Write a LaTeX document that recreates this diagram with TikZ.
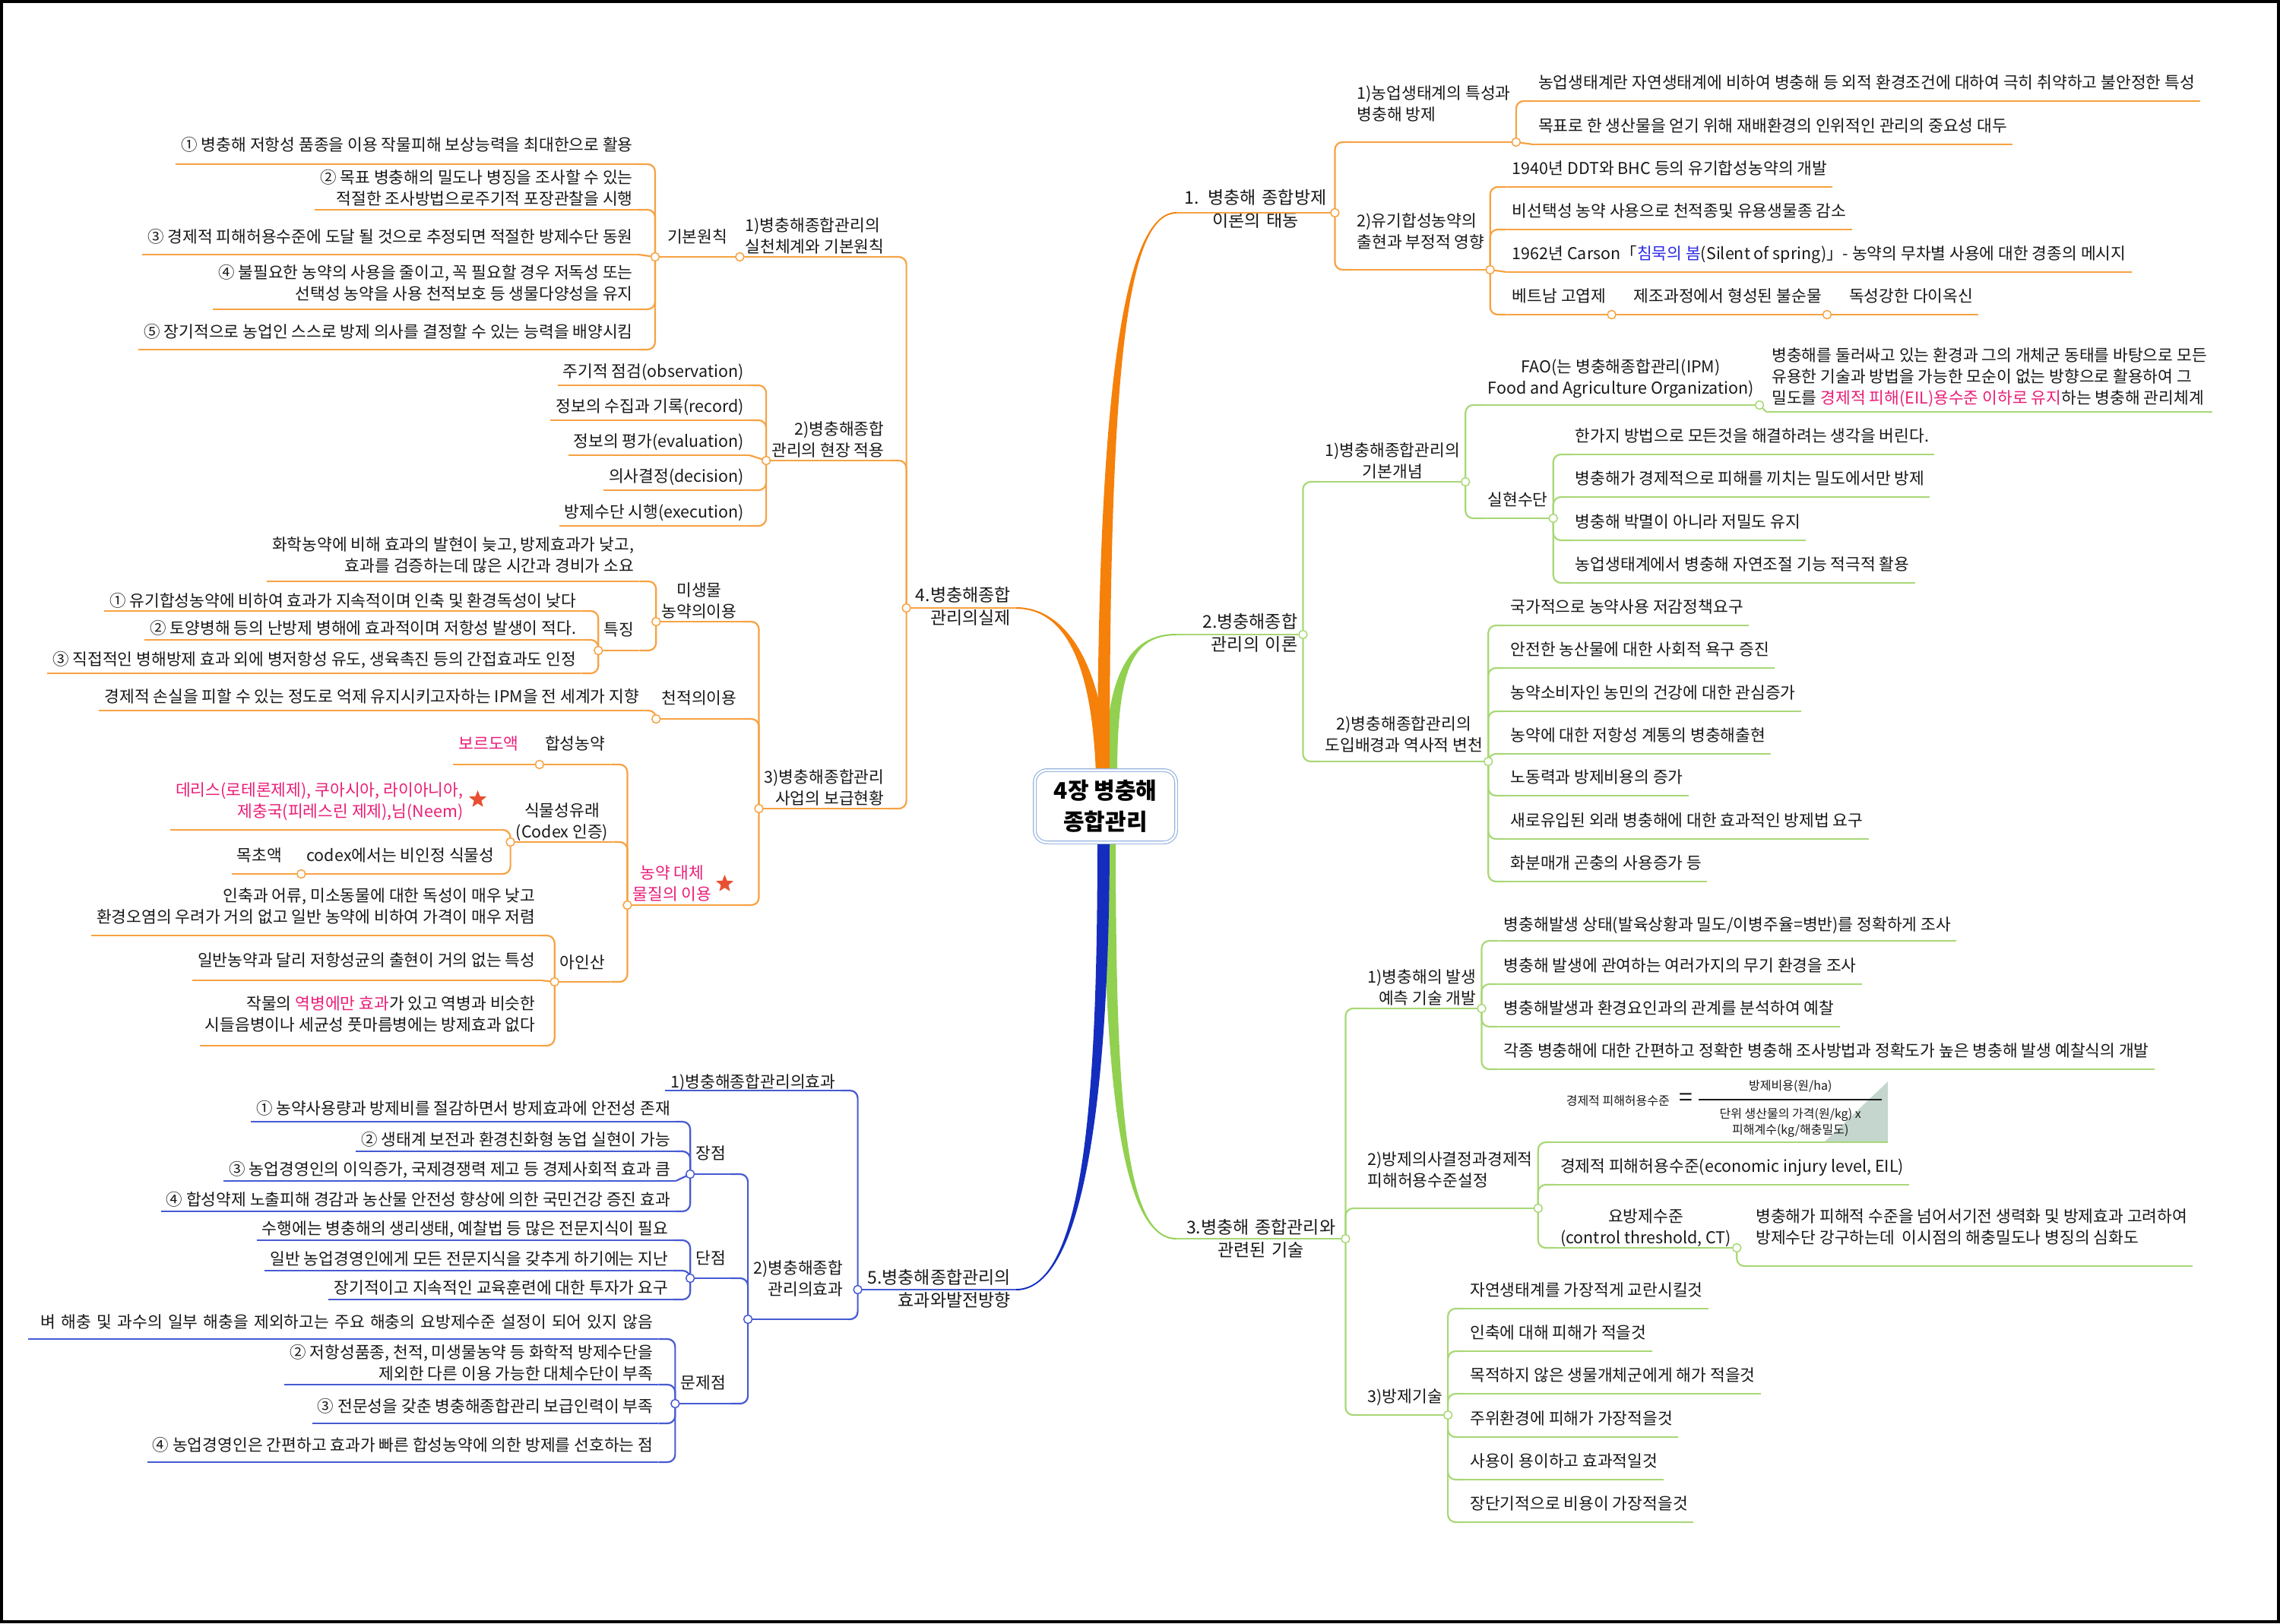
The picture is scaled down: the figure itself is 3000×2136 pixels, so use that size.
\documentclass[tikz,border=0pt]{standalone}
\usepackage{fontspec}
\setmainfont{Noto Sans CJK KR}
\usetikzlibrary{shapes.geometric}
\definecolor{OrangeMain}{RGB}{245,128,10}
\definecolor{OrangeLine}{RGB}{247,162,66}
\definecolor{GreenMain}{RGB}{146,208,80}
\definecolor{GreenLine}{RGB}{168,216,118}
\definecolor{BlueMain}{RGB}{20,45,190}
\definecolor{BlueLine}{RGB}{70,90,210}
\definecolor{PinkText}{RGB}{233,30,120}
\definecolor{BlueText}{RGB}{45,45,230}
\definecolor{StarRed}{RGB}{232,80,50}
\definecolor{BoxBlue}{RGB}{150,180,225}
\definecolor{TextGray}{RGB}{25,25,25}
\definecolor{FormulaShade}{RGB}{196,214,206}
\newcommand{\fleaf}{\fontsize{21.5}{28}\selectfont}
\newcommand{\fmain}{\fontsize{23}{30}\selectfont}
\newcommand{\fsmall}{\fontsize{16}{21}\selectfont}
\newcommand{\feq}{\fontsize{32}{32}\selectfont}
\newcommand{\fhub}{\fontsize{30}{41}\selectfont\bfseries}

\begin{document}
\begin{tikzpicture}[x=1pt, y=-1pt,
        hub/.style={
            rectangle,
            rounded corners=16pt,
            draw=BoxBlue,
            line width=1.2pt,
            double=white,
            double distance=2.5pt,
            fill=white,
            minimum width=186pt,
            minimum height=95pt,
            align=center,
            font=\fhub
        },
        rbase/.style={anchor=south west, inner xsep=7pt, inner ysep=11pt, text depth=5pt, font=\fleaf, align=left, text=TextGray},
        lbase/.style={anchor=south east, inner xsep=7pt, inner ysep=11pt, text depth=5pt, font=\fleaf, align=right, text=TextGray},
        rt/.style={rbase, xshift=22pt},
        lt/.style={lbase, xshift=-22pt},
        topic/.style={font=\fmain},
        ln/.style={draw=#1, line width=2.2pt, rounded corners=10pt},
        jn/.style={circle, draw=#1, fill=white, line width=1.5pt, minimum size=11pt, inner sep=0pt},
        starn/.style={star, star points=5, star point ratio=2.3, fill=StarRed, minimum size=24pt, inner sep=0pt}
    ]
        \useasboundingbox (0,0) rectangle (3000,2136);
        \draw[line width=4pt] (2,2) rectangle (2998,2134);

        % Thick branches out of the centre
        \fill[GreenMain] (1454,1020) .. controls (1454,880) and (1490,834) .. (1548,834) -- (1548,836) .. controls (1490,836) and (1470,880) .. (1470,1020) -- cycle;
        \fill[GreenMain] (1452,1100) .. controls (1452,1450) and (1480,1631) .. (1548,1631) -- (1548,1629) .. controls (1480,1629) and (1468,1450) .. (1468,1100) -- cycle;
        \fill[OrangeMain] (1444,1020) .. controls (1444,520) and (1478,279) .. (1548,279) -- (1548,281) .. controls (1478,281) and (1460,520) .. (1460,1020) -- cycle;
        \fill[OrangeMain] (1442,1020) .. controls (1437,870) and (1400,801) .. (1337,801) -- (1337,799) .. controls (1400,799) and (1453,870) .. (1458,1020) -- cycle;
        \fill[BlueMain] (1444,1100) .. controls (1444,1420) and (1430,1696) .. (1337,1696) -- (1337,1698) .. controls (1430,1698) and (1460,1420) .. (1460,1100) -- cycle;

        % Central topic
        \node[hub] (ctr) at (1454.5,1061) {4장 병충해\\종합관리};

        % 1. right, orange
        \node[rbase, topic, text width=194pt, align=center, inner ysep=6pt] (m1) at (1548,280) {1. 병충해 종합방제\\이론의 태동};
        \node[rt, inner ysep=23pt] (b11) at (m1.south east |- 0,187) {1)농업생태계의 특성과\\병충해 방제};
        \node[rt] (b111) at (b11.south east |- 0,133) {농업생태계란 자연생태계에 비하여 병충해 등 외적 환경조건에 대하여 극히 취약하고 불안정한 특성};
        \node[rt] (b112) at (b11.south east |- 0,190) {목표로 한 생산물을 얻기 위해 재배환경의 인위적인 관리의 중요성 대두};
        \node[rt, inner ysep=23pt] (b12) at (m1.south east |- 0,355) {2)유기합성농약의\\출현과 부정적 영향};
        \node[rt] (b121) at (b12.south east |- 0,246) {1940년 DDT와 BHC 등의 유기합성농약의 개발};
        \node[rt] (b122) at (b12.south east |- 0,302) {비선택성 농약 사용으로 천적종및 유용생물종 감소};
        \node[rt] (b123) at (b12.south east |- 0,358) {1962년 Carson「\textcolor{BlueText}{침묵의 봄}(Silent of spring)」- 농약의 무차별 사용에 대한 경종의 메시지};
        \node[rt] (b124) at (b12.south east |- 0,414) {베트남 고엽제};
        \node[rt] (b1241) at (b124.south east) {제조과정에서 형성된 불순물};
        \node[rt] (b12411) at (b1241.south east) {독성강한 다이옥신};

        % 2. right, green
        \node[rbase, topic, text width=152pt, align=right, inner ysep=3pt] (m2) at (1548,835) {2.병충해종합\\관리의 이론};
        \node[rt, align=center, inner ysep=0pt] (b21) at (m2.south east |- 0,634) {1)병충해종합관리의\\기본개념};
        \node[rt, align=center, inner ysep=9pt] (b211) at (b21.south east |- 0,533) {FAO(는 병충해종합관리(IPM)\\Food and Agriculture Organization)};
        \node[rbase, xshift=9pt, inner ysep=5pt] (b2111) at (b211.south east |- 0,542) {병충해를 둘러싸고 있는 환경과 그의 개체군 동태를 바탕으로 모든\\유용한 기술과 방법을 가능한 모순이 없는 방향으로 활용하여 그\\밀도를 \textcolor{PinkText}{경제적 피해(EIL)용수준 이하로 유지}하는 병충해 관리체계};
        \node[rt] (b212) at (b21.south east |- 0,682) {실현수단};
        \node[rt] (b2121) at (b212.south east |- 0,598) {한가지 방법으로 모든것을 해결하려는 생각을 버린다.};
        \node[rt] (b2122) at (b212.south east |- 0,654) {병충해가 경제적으로 피해를 끼치는 밀도에서만 방제};
        \node[rt] (b2123) at (b212.south east |- 0,711) {병충해 박멸이 아니라 저밀도 유지};
        \node[rt] (b2124) at (b212.south east |- 0,767) {농업생태계에서 병충해 자연조절 기능 적극적 활용};
        \node[rt, align=center, inner ysep=8pt] (b22) at (m2.south east |- 0,1002) {2)병충해종합관리의\\도입배경과 역사적 변천};
        \node[rt] (b221) at (b22.south east |- 0,823) {국가적으로 농약사용 저감정책요구};
        \node[rt] (b222) at (b22.south east |- 0,879) {안전한 농산물에 대한 사회적 욕구 증진};
        \node[rt] (b223) at (b22.south east |- 0,936) {농약소비자인 농민의 건강에 대한 관심증가};
        \node[rt] (b224) at (b22.south east |- 0,992) {농약에 대한 저항성 계통의 병충해출현};
        \node[rt] (b225) at (b22.south east |- 0,1047) {노동력과 방제비용의 증가};
        \node[rt] (b226) at (b22.south east |- 0,1104) {새로유입된 외래 병충해에 대한 효과적인 방제법 요구};
        \node[rt] (b227) at (b22.south east |- 0,1160) {화분매개 곤충의 사용증가 등};

        % 3. right, green
        \node[rbase, topic, text width=208pt, align=center, inner ysep=1pt] (m3) at (1548,1630) {3.병충해 종합관리와\\관련된 기술};
        \node[rt, align=right, inner ysep=0pt] (b31) at (m3.south east |- 0,1327) {1)병충해의 발생\\예측 기술 개발};
        \node[rt, inner ysep=8pt] (b311) at (b31.south east |- 0,1238) {병충해발생 상태(발육상황과 밀도/이병주율=병반)를 정확하게 조사};
        \node[rt] (b312) at (b31.south east |- 0,1295) {병충해 발생에 관여하는 여러가지의 무기 환경을 조사};
        \node[rt] (b313) at (b31.south east |- 0,1351) {병충해발생과 환경요인과의 관계를 분석하여 예찰};
        \node[rt] (b314) at (b31.south east |- 0,1407) {각종 병충해에 대한 간편하고 정확한 병충해 조사방법과 정확도가 높은 병충해 발생 예찰식의 개발};
        \node[rt, inner ysep=23pt] (b32) at (m3.south east |- 0,1590) {2)방제의사결정과경제적\\피해허용수준설정};
        \node[rbase, xshift=17pt, inner sep=0pt, text depth=0pt, minimum width=443pt, minimum height=2pt] (b321) at (b32.south east |- 0,1503) {};
        \node[rt] (b322) at (b32.south east |- 0,1559) {경제적 피해허용수준(economic injury level, EIL)};
        \node[rt, align=center, inner ysep=0pt] (b323) at (b32.south east |- 0,1642) {요방제수준\\(control threshold, CT)};
        \node[rbase, xshift=18pt, inner ysep=24pt] (b3231) at (b323.south east |- 0,1666) {병충해가 피해적 수준을 넘어서기전 생력화 및 방제효과 고려하여\\방제수단 강구하는데 \ 이시점의 해충밀도나 병징의 심화도};
        \node[rt] (b33) at (m3.south east |- 0,1862) {3)방제기술};
        \node[rt] (b331) at (b33.south east |- 0,1722) {자연생태계를 가장적게 교란시킬것};
        \node[rt] (b332) at (b33.south east |- 0,1778) {인축에 대해 피해가 적을것};
        \node[rt] (b333) at (b33.south east |- 0,1834) {목적하지 않은 생물개체군에게 해가 적을것};
        \node[rt] (b334) at (b33.south east |- 0,1891) {주위환경에 피해가 가장적을것};
        \node[rt] (b335) at (b33.south east |- 0,1947) {사용이 용이하고 효과적일것};
        \node[rt] (b336) at (b33.south east |- 0,2003) {장단기적으로 비용이 가장적을것};

        % Economic injury level formula
        \fill[FormulaShade] ([yshift=80pt]b321.south east) -- ([yshift=1pt]b321.south east) -- ([xshift=-83pt,yshift=1pt]b321.south east) -- cycle;
        \node[font=\fsmall, text=TextGray, inner sep=0pt] (eilL) at ([xshift=88pt,yshift=55pt]b321.south west) {경제적 피해허용수준};
        \node[font=\feq, text=TextGray, inner sep=0pt] (eilEq) at ([xshift=178pt,yshift=56pt]b321.south west) {=};
        \node[font=\fsmall, text=TextGray, inner sep=0pt] (eilNum) at ([xshift=315pt,yshift=74pt]b321.south west) {방제비용(원/ha)};
        \node[font=\fsmall, text=TextGray, align=center, inner sep=0pt] (eilDen) at ([xshift=315pt,yshift=26pt]b321.south west) {단위 생산물의 가격(원/kg) x\\피해계수(kg/해충밀도)};
        \draw[line width=2.5pt, TextGray] ([xshift=194pt,yshift=56pt]b321.south west) -- ([xshift=435pt,yshift=56pt]b321.south west);

        % 4. left, orange
        \node[lbase, topic, text width=130pt, align=right, inner ysep=3pt] (m4) at (1337,800) {4.병충해종합\\관리의실제};
        \node[lt, align=left, inner ysep=0pt] (b41) at (m4.south west |- 0,338) {1)병충해종합관리의\\실천체계와 기본원칙};
        \node[lbase, minimum width=111pt, inner ysep=13pt] (b411) at (b41.south west) {기본원칙};
        \node[lt, inner ysep=12pt] (b4111) at (b411.south west |- 0,216) {① 병충해 저항성 품종을 이용 작물피해 보상능력을 최대한으로 활용};
        \node[lt, inner ysep=1pt] (b4112) at (b411.south west |- 0,276) {② 목표 병충해의 밀도나 병징을 조사할 수 있는\\적절한 조사방법으로주기적 포장관찰을 시행};
        \node[lt, inner ysep=10pt] (b4113) at (b411.south west |- 0,335) {③ 경제적 피해허용수준에 도달 될 것으로 추정되면 적절한 방제수단 동원};
        \node[lt, inner ysep=7pt] (b4114) at (b411.south west |- 0,407) {④ 불필요한 농약의 사용을 줄이고, 꼭 필요할 경우 저독성 또는\\선택성 농약을 사용 천적보호 등 생물다양성을 유지};
        \node[lt, inner ysep=10pt] (b4115) at (b411.south west |- 0,460) {⑤ 장기적으로 농업인 스스로 방제 의사를 결정할 수 있는 능력을 배양시킴};
        \node[lt, inner ysep=0pt] (b42) at (m4.south west |- 0,606) {2)병충해종합\\관리의 현장 적용};
        \node[lt, inner ysep=5pt] (b421) at (b42.south west |- 0,507) {주기적 점검(observation)};
        \node[lt, inner ysep=5pt] (b422) at (b42.south west |- 0,553) {정보의 수집과 기록(record)};
        \node[lt, inner ysep=5pt] (b423) at (b42.south west |- 0,599) {정보의 평가(evaluation)};
        \node[lt, inner ysep=5pt] (b424) at (b42.south west |- 0,645) {의사결정(decision)};
        \node[lt, inner ysep=5pt] (b425) at (b42.south west |- 0,692) {방제수단 시행(execution)};
        \node[lt, inner ysep=0pt] (b43) at (m4.south west |- 0,1064) {3)병충해종합관리\\사업의 보급현황};
        \node[lt, align=center, inner ysep=0pt] (b431) at (b43.south west |- 0,818) {미생물\\농약의이용};
        \node[lt, inner ysep=7pt] (b4311) at (b431.south west |- 0,765) {화학농약에 비해 효과의 발현이 늦고, 방제효과가 낮고,\\효과를 검증하는데 많은 시간과 경비가 소요};
        \node[lt, inner ysep=14pt] (b4312) at (b431.south west |- 0,856) {특징};
        \node[lt, inner ysep=0pt] (b43121) at (b4312.south west |- 0,804) {① 유기합성농약에 비하여 효과가 지속적이며 인축 및 환경독성이 낮다};
        \node[lt, inner ysep=2pt] (b43122) at (b4312.south west |- 0,842) {② 토양병해 등의 난방제 병해에 효과적이며 저항성 발생이 적다.};
        \node[lt, inner ysep=5pt] (b43123) at (b4312.south west |- 0,886) {③ 직접적인 병해방제 효과 외에 병저항성 유도, 생육촉진 등의 간접효과도 인정};
        \node[lt, inner ysep=14pt] (b432) at (b43.south west |- 0,946) {천적의이용};
        \node[lbase, xshift=-15pt, inner ysep=5pt] (b4321) at (b432.south west |- 0,935) {경제적 손실을 피할 수 있는 정도로 억제 유지시키고자하는 IPM을 전 세계가 지향};
        \node[lt, inner ysep=1pt, text=PinkText] (b433) at (b43.south west |- 0,1191) {\begin{tabular}[b]{@{}c@{}}농약 대체\\물질의 이용\end{tabular}\hspace*{33pt}};
        \node[lt, inner ysep=14pt] (b4331) at (b433.south west |- 0,1006) {합성농약};
        \node[lbase, xshift=-20pt, inner ysep=14pt, text=PinkText] (b43311) at (b4331.south west) {보르도액};
        \node[lbase, xshift=-18pt, align=center, inner ysep=0pt] (b4332) at (b433.south west |- 0,1108) {식물성유래\\(Codex 인증)};
        \node[lbase, xshift=-10pt, inner ysep=11pt, text=PinkText] (b43321) at (b4332.south west |- 0,1092) {\begin{tabular}[b]{@{}r@{}}데리스(로테론제제), 쿠아시아, 라이아니아,\\제충국(피레스린 제제),님(Neem)\end{tabular}\hspace*{45pt}};
        \node[lbase, xshift=-14pt] (b43322) at (b4332.south west |- 0,1150) {codex에서는 비인정 식물성};
        \node[lbase, xshift=-18pt] (b433221) at (b43322.south west) {목초액};
        \node[lt, inner ysep=12pt] (b4333) at (b433.south west |- 0,1292) {아인산};
        \node[lbase, xshift=-18pt] (b43331) at (b4333.south west |- 0,1231) {인축과 어류, 미소동물에 대한 독성이 매우 낮고\\환경오염의 우려가 거의 없고 일반 농약에 비하여 가격이 매우 저렴};
        \node[lbase, xshift=-18pt, inner ysep=13pt] (b43332) at (b4333.south west |- 0,1290) {일반농약과 달리 저항성균의 출현이 거의 없는 특성};
        \node[lbase, xshift=-18pt, inner ysep=14pt] (b43333) at (b4333.south west |- 0,1376) {작물의 \textcolor{PinkText}{역병에만 효과}가 있고 역병과 비슷한\\시들음병이나 세균성 풋마름병에는 방제효과 없다};

        % 5. left, blue
        \node[lbase, topic, text width=194pt, align=right, inner ysep=2pt] (m5) at (1337,1697) {5.병충해종합관리의\\효과와발전방향};
        \node[lt, inner ysep=0pt, text depth=3pt] (b51) at (m5.south west |- 0,1435) {1)병충해종합관리의효과};
        \node[lbase, xshift=-12pt, inner ysep=26pt] (b52) at (m5.south west |- 0,1736) {2)병충해종합\\관리의효과};
        \node[lt, inner ysep=14pt] (b521) at (b52.south west |- 0,1545) {장점};
        \node[lbase, xshift=-19pt, inner ysep=4pt] (b5211) at (b521.south west |- 0,1476) {① 농약사용량과 방제비를 절감하면서 방제효과에 안전성 존재};
        \node[lbase, xshift=-19pt, inner ysep=2pt] (b5212) at (b521.south west |- 0,1515) {② 생태계 보전과 환경친화형 농업 실현이 가능};
        \node[lbase, xshift=-19pt, inner ysep=2pt] (b5213) at (b521.south west |- 0,1554) {③ 농업경영인의 이익증가, 국제경쟁력 제고 등 경제사회적 효과 큼};
        \node[lbase, xshift=-19pt, inner ysep=2pt] (b5214) at (b521.south west |- 0,1594) {④ 합성약제 노출피해 경감과 농산물 안전성 향상에 의한 국민건강 증진 효과};
        \node[lt, inner ysep=13pt] (b522) at (b52.south west |- 0,1682) {단점};
        \node[lt, inner ysep=2pt] (b5221) at (b522.south west |- 0,1632) {수행에는 병충해의 생리생태, 예찰법 등 많은 전문지식이 필요};
        \node[lt, inner ysep=2pt] (b5222) at (b522.south west |- 0,1672) {일반 농업경영인에게 모든 전문지식을 갖추게 하기에는 지난};
        \node[lt, inner ysep=2pt] (b5223) at (b522.south west |- 0,1710) {장기적이고 지속적인 교육훈련에 대한 투자가 요구};
        \node[lt, inner ysep=14pt] (b523) at (b52.south west |- 0,1847) {문제점};
        \node[lt, text width=815pt, inner ysep=9pt] (b5231) at (b523.south west |- 0,1762) {벼 해충 및 과수의 일부 해충을 제외하고는 주요 해충의 요방제수준 설정이 되어 있지 않음};
        \node[lt, inner ysep=1pt] (b5232) at (b523.south west |- 0,1822) {② 저항성품종, 천적, 미생물농약 등 화학적 방제수단을\\제외한 다른 이용 가능한 대체수단이 부족};
        \node[lt, inner ysep=9pt] (b5233) at (b523.south west |- 0,1873) {③ 전문성을 갖춘 병충해종합관리 보급인력이 부족};
        \node[lt, inner ysep=9pt] (b5234) at (b523.south west |- 0,1924) {④ 농업경영인은 간편하고 효과가 빠른 합성농약에 의한 방제를 선호하는 점};

        % Underlines
        \foreach \n in {m1,b11,b111,b112,b12,b121,b122,b123,b124,b1241,b12411,
                        m4,b41,b411,b4111,b4112,b4113,b4114,b4115,b42,b421,b422,b423,b424,b425,
                        b43,b431,b4311,b4312,b43121,b43122,b43123,b432,b4321,b433,b4331,b43311,
                        b4332,b43321,b43322,b433221,b4333,b43331,b43332,b43333}
            \draw[ln=OrangeLine] (\n.south west) -- (\n.south east);
        \foreach \n in {m2,b21,b211,b2111,b212,b2121,b2122,b2123,b2124,b22,b221,b222,b223,b224,b225,b226,b227,
                        m3,b31,b311,b312,b313,b314,b32,b321,b322,b323,b3231,b33,b331,b332,b333,b334,b335,b336}
            \draw[ln=GreenLine] (\n.south west) -- (\n.south east);
        \foreach \n in {m5,b51,b52,b521,b5211,b5212,b5213,b5214,b522,b5221,b5222,b5223,b523,b5231,b5232,b5233,b5234}
            \draw[ln=BlueLine] (\n.south west) -- (\n.south east);

        % Connections
        \foreach \p/\c in {m1/b11,m1/b12,b11/b111,b12/b121,b12/b122,b12/b124}
            \draw[ln=OrangeLine] (\p.south east) |- (\c.south west);
        \foreach \p/\c in {b11/b112,b12/b123,b124/b1241,b1241/b12411}
            \draw[ln=OrangeLine] (\p.south east) -- (\c.south west);
        \foreach \p/\c in {m2/b21,m2/b22,b21/b211,b21/b212,b212/b2121,b212/b2122,b212/b2123,b212/b2124,
                           b22/b221,b22/b222,b22/b223,b22/b224,b22/b225,b22/b226,b22/b227,
                           m3/b31,m3/b32,m3/b33,b31/b311,b31/b312,b31/b313,b31/b314,b32/b321,b32/b322,b32/b323,
                           b323/b3231,b33/b331,b33/b332,b33/b333,b33/b334,b33/b335,b33/b336}
            \draw[ln=GreenLine] (\p.south east) |- (\c.south west);
        \draw[ln=GreenLine] (b211.south east) -- (b2111.south west);
        \foreach \p/\c in {m4/b41,m4/b42,m4/b43,b411/b4111,b411/b4112,b411/b4114,b411/b4115,
                           b42/b421,b42/b422,b42/b424,b42/b425,b43/b431,b43/b432,b43/b433,
                           b431/b4311,b431/b4312,b4312/b43121,b4312/b43122,b4312/b43123,b432/b4321,
                           b433/b4331,b433/b4332,b433/b4333,b4332/b43321,b4332/b43322,b4333/b43331,b4333/b43333}
            \draw[ln=OrangeLine] (\p.south west) |- (\c.south east);
        \foreach \p/\c in {b41/b411,b411/b4113,b42/b423,b4331/b43311,b43322/b433221,b4333/b43332}
            \draw[ln=OrangeLine] (\p.south west) -- (\c.south east);
        \foreach \p/\c in {m5/b51,m5/b52,b52/b521,b52/b522,b52/b523,b521/b5211,b521/b5212,b521/b5214,
                           b522/b5221,b522/b5222,b522/b5223,b523/b5231,b523/b5232,b523/b5233,b523/b5234}
            \draw[ln=BlueLine] (\p.south west) |- (\c.south east);
        \draw[ln=BlueLine] (b521.south west) -- (b5213.south east);

        % Junction dots
        \foreach \n in {m1,b11,b12,b124,b1241}
            \node[jn=OrangeLine] (j\n) at (\n.south east) {};
        \foreach \n in {m4,b41,b411,b42,b43,b431,b4312,b432,b433,b4331,b4332,b43322,b4333}
            \node[jn=OrangeLine] (j\n) at (\n.south west) {};
        \foreach \n in {m2,b21,b211,b212,b22,m3,b31,b32,b323,b33}
            \node[jn=GreenLine] (j\n) at (\n.south east) {};
        \foreach \n in {m5,b52,b521,b522,b523}
            \node[jn=BlueLine] (j\n) at (\n.south west) {};

        % Stars
        \node[starn] (star1) at ([xshift=-23pt,yshift=28pt]b433.south east) {};
        \node[starn] (star2) at ([xshift=-33pt,yshift=40pt]b43321.south east) {};

    \end{tikzpicture}
\end{document}
